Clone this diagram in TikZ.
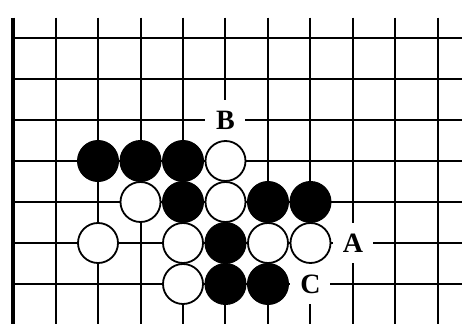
\documentclass[tikz,border=0pt]{standalone}
\usepackage{fontspec}
\setmainfont{Liberation Serif}
\usepackage{tikz}
\definecolor{boardline}{RGB}{0,0,0}
\tikzset{
  gridln/.style={boardline, line width=2pt},
  edgeln/.style={boardline, line width=3.2pt},
  bstone/.style={circle, draw=black, fill=black, line width=1pt,
                 minimum size=41pt, inner sep=0pt},
  wstone/.style={circle, draw=black, fill=white, line width=1.8pt,
                 minimum size=40pt, inner sep=0pt},
  ptlbl/.style={fill=white, minimum size=40pt, inner sep=0pt,
                font=\fontsize{28}{28}\selectfont\bfseries},
}

\begin{document}
\begin{tikzpicture}[x=42.5pt, y=-41pt]
  \useasboundingbox (-0.306,-0.927) rectangle (10.565,6.976);
  % board
  \foreach \c in {1,...,10}{\draw[gridln] (\c,-0.5) -- (\c,6.976);}
  \foreach \r in {0,...,6}{\draw[gridln] (0,\r) -- (10.565,\r);}
  \draw[edgeln] (0,-0.5) -- (0,6.976);
  % points
  \node[ptlbl] (ptB) at (5,2) {B};
  \node[ptlbl] (ptA) at (8,5) {A};
  \node[ptlbl] (ptC) at (7,6) {C};
  % stones
  \foreach \x/\y [count=\i] in {2/3,3/3,4/3,4/4,6/4,7/4,5/5,5/6,6/6}
    {\node[bstone] (b\i) at (\x,\y) {};}
  \foreach \x/\y [count=\i] in {5/3,3/4,5/4,2/5,4/5,6/5,7/5,4/6}
    {\node[wstone] (w\i) at (\x,\y) {};}
\end{tikzpicture}
\end{document}
